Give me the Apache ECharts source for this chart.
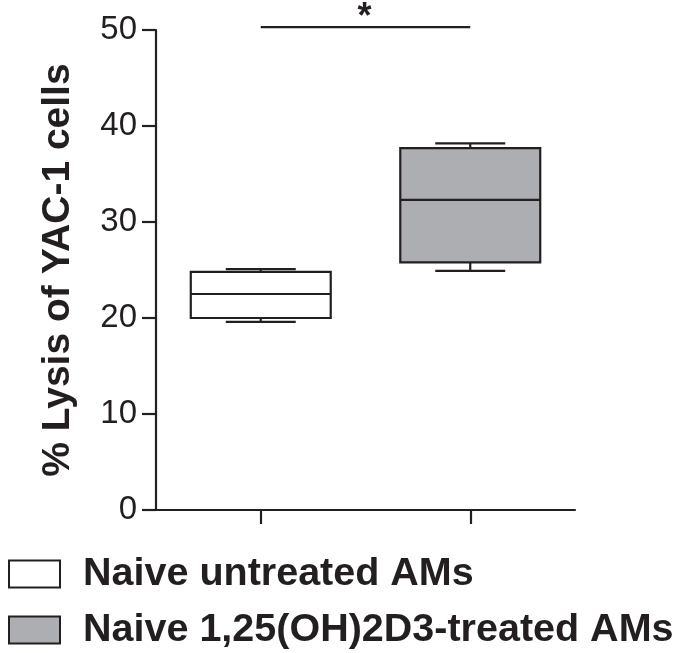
<!DOCTYPE html>
<html>
<head>
<meta charset="utf-8">
<script src="https://cdn.jsdelivr.net/npm/echarts@6/dist/echarts.min.js"></script>
<style>
html,body{margin:0;padding:0;background:#fff;}
#chart{width:677px;height:653px;}
</style>
</head>
<body>
<div id="chart"></div>
<script>
// ---- data ----
const categories = ['Naive untreated AMs', 'Naive 1,25(OH)2D3-treated AMs'];
// [min, Q1, median, Q3, max]
const untreatedStats = [19.6, 20.0, 22.5, 24.8, 25.1];
const treatedStats = [24.9, 25.8, 32.3, 37.7, 38.2];
const yTickValues = [0, 10, 20, 30, 40, 50];
const significanceLevel = 50.3;
const significanceLabel = '*';

const INK = '#231f20';
const GREY = '#adaeb2';
const FONT = '"Liberation Sans", Arial, Helvetica, sans-serif';

function boxRenderer(fill) {
  return function (params, api) {
    const cx = api.value(0);
    const vMin = api.value(1), q1 = api.value(2), med = api.value(3), q3 = api.value(4), vMax = api.value(5);
    const band = api.size([1, 0])[0];
    const bw = band * 0.668;
    const half = bw / 2;
    const capHalf = bw / 4;
    const pMin = api.coord([cx, vMin]);
    const pQ1 = api.coord([cx, q1]);
    const pMed = api.coord([cx, med]);
    const pQ3 = api.coord([cx, q3]);
    const pMax = api.coord([cx, vMax]);
    const x = pMed[0];
    const ls = { stroke: INK, lineWidth: 2.2 };
    return {
      type: 'group',
      children: [
        { type: 'line', shape: { x1: x, y1: pQ3[1], x2: x, y2: pMax[1] }, style: ls },
        { type: 'line', shape: { x1: x, y1: pQ1[1], x2: x, y2: pMin[1] }, style: ls },
        { type: 'line', shape: { x1: x - capHalf, y1: pMax[1], x2: x + capHalf, y2: pMax[1] }, style: ls },
        { type: 'line', shape: { x1: x - capHalf, y1: pMin[1], x2: x + capHalf, y2: pMin[1] }, style: ls },
        { type: 'rect', shape: { x: x - half, y: pQ3[1], width: bw, height: pQ1[1] - pQ3[1] },
          style: { fill: fill, stroke: INK, lineWidth: 2.2 } },
        { type: 'line', shape: { x1: x - half, y1: pMed[1], x2: x + half, y2: pMed[1] }, style: ls }
      ]
    };
  };
}

function sigRenderer(params, api) {
  const p0 = api.coord([0, api.value(1)]);
  const p1 = api.coord([1, api.value(1)]);
  return {
    type: 'group',
    children: [
      { type: 'line', shape: { x1: p0[0], y1: p0[1], x2: p1[0], y2: p1[1] }, style: { stroke: INK, lineWidth: 2.2 } },
      { type: 'text', x: (p0[0] + p1[0]) / 2 - 1, y: p0[1] - 9,
        style: { text: significanceLabel, fill: INK, font: 'bold 36px ' + FONT,
                 align: 'center', verticalAlign: 'middle' } }
    ]
  };
}

const chart = echarts.init(document.getElementById('chart'), null, { renderer: 'canvas' });
const legendCommon = {
  orient: 'vertical',
  left: 3,
  itemWidth: 51,
  itemHeight: 27,
  selectedMode: false,
  textStyle: { fontFamily: FONT, fontWeight: 'bold', fontSize: 39.5, color: INK, padding: [4, 0, 0, 18] }
};
chart.setOption({
  animation: false,
  backgroundColor: '#fff',
  grid: { left: 156, right: 102, top: 30, bottom: 143 },
  legend: [
    Object.assign({}, legendCommon, { top: 549, data: [{ name: categories[0], icon: 'rect', itemStyle: { color: '#fff', borderColor: INK, borderWidth: 2 } }] }),
    Object.assign({}, legendCommon, { top: 605, data: [{ name: categories[1], icon: 'rect', itemStyle: { color: GREY, borderColor: INK, borderWidth: 2 } }] })
  ],
  xAxis: {
    type: 'category',
    data: categories,
    boundaryGap: true,
    axisLine: { lineStyle: { color: INK, width: 2.2 } },
    axisTick: { show: true, alignWithLabel: true, interval: 0, length: 14, lineStyle: { color: INK, width: 2.2 } },
    axisLabel: { show: true, interval: 0, formatter: function () { return ''; } },
    splitLine: { show: false }
  },
  yAxis: {
    type: 'value',
    min: yTickValues[0],
    max: yTickValues[yTickValues.length - 1],
    interval: yTickValues[1] - yTickValues[0],
    name: '% Lysis of YAC-1 cells',
    nameLocation: 'middle',
    nameRotate: 90,
    nameGap: 78,
    nameTextStyle: { fontFamily: FONT, fontWeight: 'bold', fontSize: 39, color: INK },
    axisLine: { show: true, lineStyle: { color: INK, width: 2.2 } },
    axisTick: { show: true, length: 14, lineStyle: { color: INK, width: 2.2 } },
    axisLabel: { margin: 19, fontFamily: FONT, fontSize: 33, color: INK },
    splitLine: { show: false }
  },
  series: [
    {
      name: categories[0],
      type: 'custom',
      renderItem: boxRenderer('#ffffff'),
      encode: { x: 0, y: [1, 2, 3, 4, 5] },
      itemStyle: { color: '#fff', borderColor: INK },
      data: [[0].concat(untreatedStats)]
    },
    {
      name: categories[1],
      type: 'custom',
      renderItem: boxRenderer(GREY),
      encode: { x: 0, y: [1, 2, 3, 4, 5] },
      itemStyle: { color: GREY, borderColor: INK },
      data: [[1].concat(treatedStats)]
    },
    {
      name: 'significance',
      type: 'custom',
      renderItem: sigRenderer,
      clip: false,
      encode: { x: 0, y: 1 },
      data: [[0, significanceLevel]]
    }
  ]
});
</script>
</body>
</html>
